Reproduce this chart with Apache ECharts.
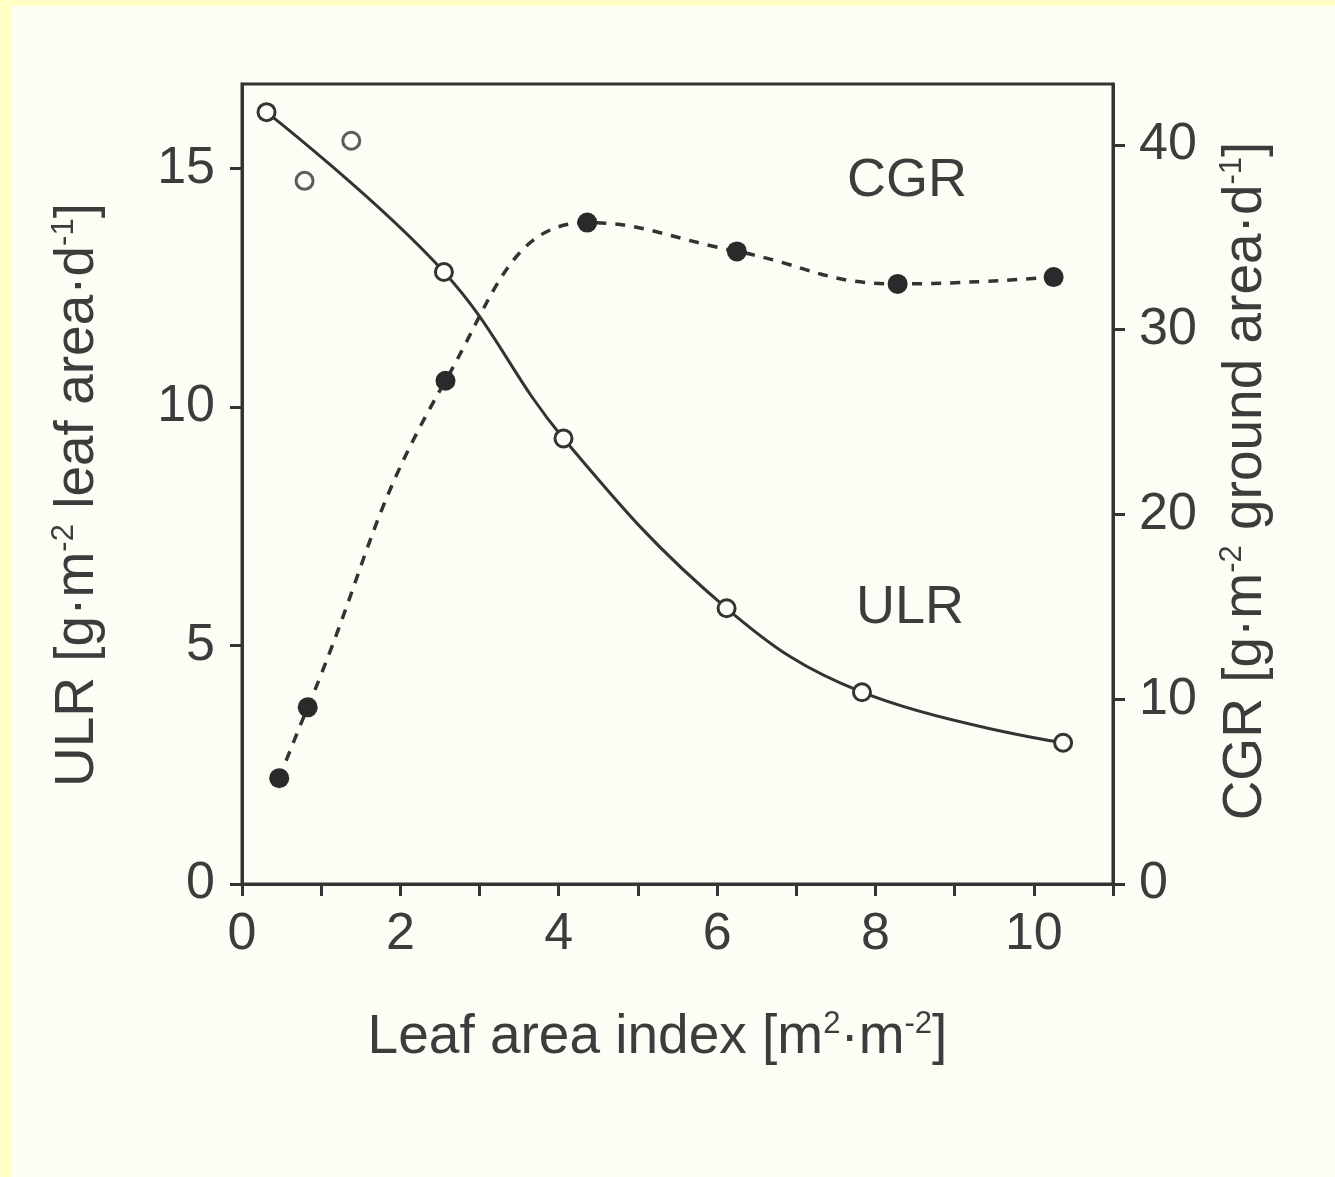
<!DOCTYPE html>
<html>
<head>
<meta charset="utf-8">
<script src="https://cdn.jsdelivr.net/npm/echarts@6/dist/echarts.min.js"></script>
<style>
html,body{margin:0;padding:0;background:#fdfdf5;}
#chart{width:1335px;height:1177px;}
</style>
</head>
<body>
<div id="chart"></div>
<script>
// ---- data ----
// ULR (open circles, left axis); points on the fitted curve
const ulrCurveLAI = [0.31, 2.55, 4.06, 6.12, 7.83, 10.37];
const ulrCurveVal = [16.18, 12.83, 9.34, 5.78, 4.02, 2.96];
// ULR points off the curve
const ulrExtraLAI = [0.79, 1.38];
const ulrExtraVal = [14.74, 15.58];
// CGR (filled circles, right axis)
const cgrLAI = [0.47, 0.83, 2.57, 4.36, 6.25, 8.28, 10.25];
const cgrVal = [5.73, 9.56, 27.24, 35.8, 34.24, 32.48, 32.85];
// tick labels
const xTickLabels = [0, 2, 4, 6, 8, 10];
const leftTicks = [0, 5, 10, 15];
const rightTicks = [0, 10, 20, 30, 40];

const ink = '#333333';
const txt = '#3c3c3c';
const bg = '#fdfdf5';
const FONT = "'Liberation Sans', Arial, Helvetica, sans-serif";

const pair = (xs, ys) => xs.map((x, i) => [x, ys[i]]);

const supRich = {
  sup: { fontSize: 31, verticalAlign: 'top', lineHeight: 58, color: txt, fontFamily: FONT }
};

const chart = echarts.init(document.getElementById('chart'), null, { renderer: 'canvas' });
chart.setOption({
  backgroundColor: bg,
  animation: false,
  textStyle: { fontFamily: FONT },
  grid: { left: 242, right: 222, top: 84, bottom: 293, show: true, borderColor: ink, borderWidth: 3, backgroundColor: 'transparent' },
  xAxis: {
    type: 'value', min: 0, max: 11, interval: 1,
    axisLine: { show: true, lineStyle: { color: ink, width: 3 } },
    axisTick: { show: true, inside: false, length: 12, lineStyle: { color: ink, width: 3 } },
    axisLabel: {
      customValues: xTickLabels,
      margin: 25, fontSize: 52, color: txt, fontFamily: FONT
    },
    splitLine: { show: false },
    name: 'Leaf area index [m{sup|2}·m{sup|-2}]',
    nameLocation: 'middle', nameGap: 125,
    nameTextStyle: {
      fontSize: 55, color: txt, fontFamily: FONT, lineHeight: 58,
      verticalAlign: 'top', padding: [0, 40, 0, 0], rich: supRich
    }
  },
  yAxis: [
    {
      type: 'value', min: 0, max: 16.77, position: 'left',
      axisLine: { show: true, lineStyle: { color: ink, width: 3 } },
      axisTick: { show: true, customValues: leftTicks, length: 12, lineStyle: { color: ink, width: 3 } },
      axisLabel: { customValues: leftTicks, margin: 27, fontSize: 52, color: txt, fontFamily: FONT },
      splitLine: { show: false },
      name: 'ULR [g·m{sup|-2} leaf area·d{sup|-1}]',
      nameLocation: 'middle', nameGap: 135, nameRotate: 90,
      nameTextStyle: { fontSize: 55, color: txt, fontFamily: FONT, lineHeight: 58, padding: [0, 22, 0, 0], rich: supRich }
    },
    {
      type: 'value', min: 0, max: 43.3, position: 'right',
      axisLine: { show: true, lineStyle: { color: ink, width: 3 } },
      axisTick: { show: true, customValues: rightTicks, length: 12, lineStyle: { color: ink, width: 3 } },
      axisLabel: { customValues: rightTicks, margin: 26, fontSize: 52, color: txt, fontFamily: FONT },
      splitLine: { show: false },
      name: 'CGR [g·m{sup|-2} ground area·d{sup|-1}]',
      nameLocation: 'middle', nameGap: 104, nameRotate: 90,
      nameTextStyle: { fontSize: 55, color: txt, fontFamily: FONT, lineHeight: 58, padding: [0, 0, 0, 6], rich: supRich }
    }
  ],
  series: [
    {
      name: 'CGR', type: 'line', yAxisIndex: 1,
      data: pair(cgrLAI, cgrVal),
      smooth: 0.45,
      lineStyle: { color: ink, width: 3.5, type: [10, 9] },
      symbol: 'circle', symbolSize: 20,
      itemStyle: { color: '#2a2a2a', borderWidth: 0 },
      z: 3
    },
    {
      name: 'ULR', type: 'line', yAxisIndex: 0,
      data: pair(ulrCurveLAI, ulrCurveVal),
      smooth: 0.4,
      lineStyle: { color: ink, width: 3 },
      symbol: 'circle', symbolSize: 17,
      itemStyle: { color: bg, borderColor: ink, borderWidth: 3 },
      z: 4
    },
    {
      name: 'ULR extra', type: 'scatter', yAxisIndex: 0,
      data: pair(ulrExtraLAI, ulrExtraVal),
      symbol: 'circle', symbolSize: 17,
      itemStyle: { color: bg, borderColor: ink, borderWidth: 3 },
      z: 4
    }
  ],
  graphic: [
    { type: 'rect', left: 0, top: 0, shape: { width: 1335, height: 6 }, style: { fill: '#ffffc6' }, silent: true },
    { type: 'rect', left: 0, top: 0, shape: { width: 11, height: 1177 }, style: { fill: '#ffffc6' }, silent: true },
    { type: 'text', left: 847, top: 154, style: { text: 'CGR', fontSize: 54, fill: txt, fontFamily: FONT } },
    { type: 'text', left: 856, top: 581, style: { text: 'ULR', fontSize: 54, fill: txt, fontFamily: FONT } }
  ]
});
</script>
</body>
</html>
